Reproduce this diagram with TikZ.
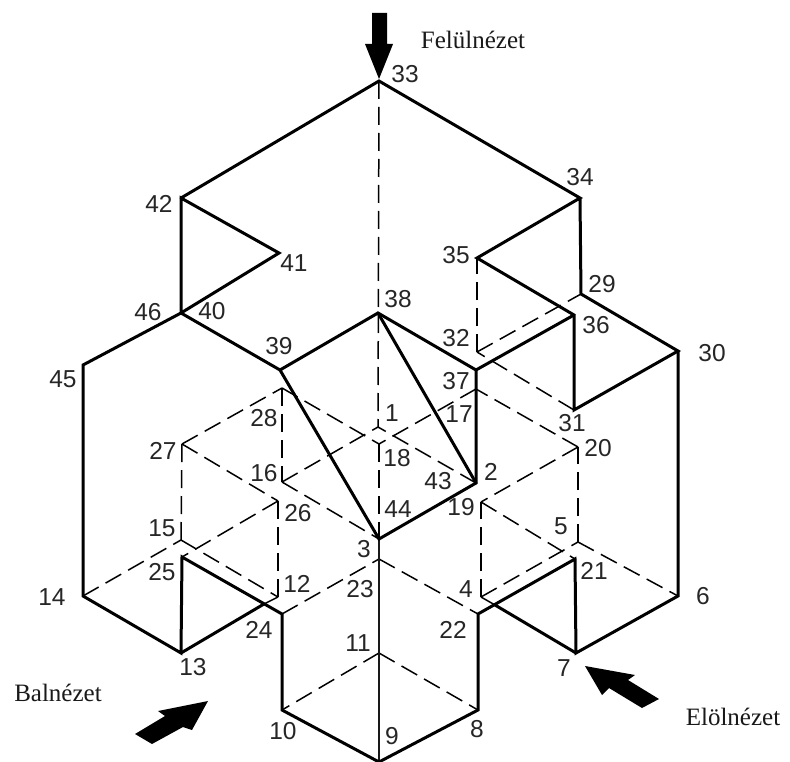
\documentclass[tikz,border=0pt]{standalone}
\usepackage{fontspec}
\setmainfont{Liberation Sans}
\newfontfamily\viewfont{Liberation Serif}
\begin{document}
\begin{tikzpicture}[x=1pt,y=-1pt,
  solidedge/.style={line width=3pt,line join=miter,line cap=round,black},
  midedge/.style={line width=2.8pt,black!90},
  hiddenedge/.style={line width=1.5pt,dash pattern=on 18pt off 8pt,black},
  lbl/.style={font=\fontsize{24.5}{25}\selectfont,text=black!85,inner sep=0pt},
  viewlbl/.style={font=\viewfont\fontsize{25}{25}\selectfont,text=black!90,inner sep=0pt},
  viewarrow/.style={fill=black,draw=none}]
\useasboundingbox (0,0) rectangle (790,762);
\fill[white] (0,0) rectangle (790,762);
% vertices
\foreach \n/\x/\y in {1/378/427,2/476/483,3/379/539,4/481/597,5/578/542,6/678/596,7/576/653,8/478/710,9/379/762,10/282/710,11/379/653,12/278/597,13/181/653,14/83/596,15/181/540,16/282/482,17/476/389,18/379/444,19/481/502,20/578/447,21/575/559,22/478/614,23/379/559,24/282/614,25/182/557,26/278/501,27/182/444,28/282/388,29/581/294,30/678/351,31/574/410,32/477/352,33/379/81,34/580/198,35/477/258,36/574/315,37/476/370,38/378/313,39/280/370,40/181/313,41/279/253,42/181/198,45/83/365,c1/264/604,c2/495/605}
  \coordinate (p\n) at (\x,\y);
% hidden edges
\foreach \a/\b in {33/1,18/3,14/15,15/12,15/27,27/28,27/26,26/25,26/12,28/16,28/18,16/1,16/3,24/23,23/22,11/10,11/8,4/5,4/19,19/21,5/6,5/20,20/19,20/17,17/18,2/1,31/32,32/29,32/35}
  \draw[hiddenedge] (p\a) -- (p\b);
% short thin remainders
\draw[line width=1.5pt,black] (pc1) -- (p12);
\draw[line width=1.5pt,black] (pc2) -- (p4);
\draw[midedge] (p3) -- (p9);
% visible edges
\draw[solidedge] (p42) -- (p33) -- (p34) -- (p35) -- (p36) -- (p31) -- (p30) -- (p29) -- (p34);
\draw[solidedge] (p30) -- (p6) -- (p7) -- (p21) -- (p22) -- (p8) -- (p9) -- (p10) -- (p24) -- (p25) -- (p13) -- (p14) -- (p45) -- (p40) -- (p42) -- (p41) -- (p40) -- (p39) -- (p38) -- (p37) -- (p2) -- (p3) -- (p39);
\draw[solidedge] (p38) -- (p2);
\draw[solidedge] (p37) -- (p36);
\draw[solidedge] (p13) -- (pc1);
\draw[solidedge] (p7) -- (pc2);
% arrows
\path[viewarrow] (372,13) -- (387,13) -- (387,44) -- (393,44) -- (379,79) -- (365,44) -- (372,44) -- cycle;
\path[viewarrow] (208,701) -- (158,711) -- (165,716) -- (135,734) -- (152,744) -- (183,727) -- (192,730) -- cycle;
\path[viewarrow] (585,666) -- (635,675) -- (628,680) -- (659,699) -- (642,708) -- (609,688) -- (602,695) -- cycle;
% view labels
\node[viewlbl] (felul) at (473,40) {Felülnézet};
\node[viewlbl] (bal) at (58,693) {Balnézet};
\node[viewlbl] (elol) at (733,717) {Elölnézet};
% number labels
\foreach \t/\x/\y in {33/405/74,34/580/177,42/159/204,41/294/263,35/456/255,29/602/284,38/398/299,46/148/312,40/212/311,39/279/346,36/596/325,30/712/353,45/63/379,32/456/338,37/456/381,31/572/423,1/392/413,17/459/414,28/264/418,18/397/458,27/163/451,16/264/473,43/438/481,2/491/472,20/598/448,19/461/507,26/298/513,44/398/509,5/561/526,15/162/528,3/364/549,25/162/572,23/360/589,21/594/571,4/466/589,12/297/584,14/52/597,24/259/630,22/453/630,6/703/596,11/358/643,13/193/667,7/564/668,10/283/731,9/392/736,8/477/729}
  \node[lbl] (l\t) at (\x,\y) {\t};
\end{tikzpicture}
\end{document}
